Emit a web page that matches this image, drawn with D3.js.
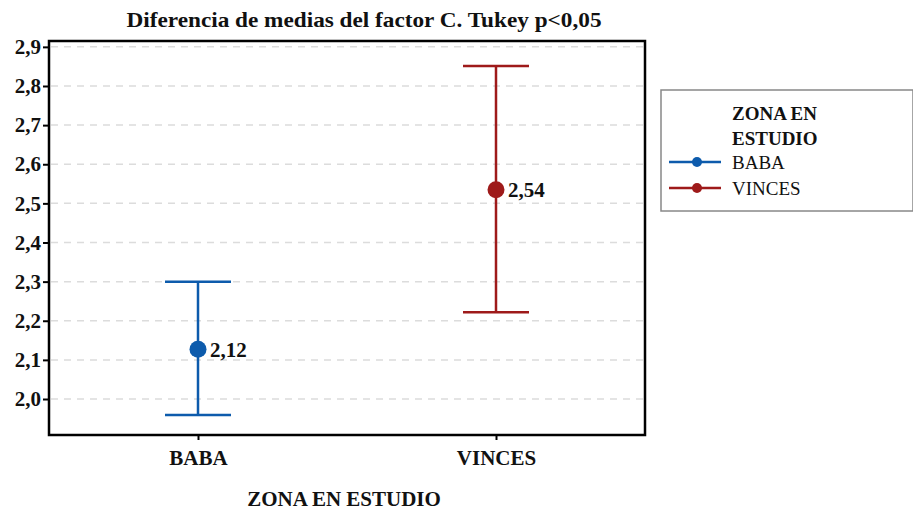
<!DOCTYPE html>
<html><head><meta charset="utf-8">
<script src="https://cdn.jsdelivr.net/npm/d3@7"></script>
<style>body{margin:0;background:#fff}svg text{font-family:"Liberation Serif","Times New Roman",serif}</style>
</head><body><svg id="c" width="913" height="514"></svg>
<script>
const categories = ["BABA", "VINCES"];
const means = [2.127, 2.535];
const meanLabels = ["2,12", "2,54"];
const lower = [1.959, 2.222];
const upper = [2.300, 2.851];
const yTicks = [2.0, 2.1, 2.2, 2.3, 2.4, 2.5, 2.6, 2.7, 2.8, 2.9];
const colors = ["#0d5bac", "#9e1a1a"];

const svg = d3.select("#c");
const L = 49, R = 645, T = 41, B = 435;
const x = d3.scalePoint().domain(categories).range([L, R]).padding(0.5);
const y = d3.scaleLinear().domain([1.908, 2.915]).range([B, T]);
const fmt = d => d.toFixed(1).replace(".", ",");

// grid
svg.append("g").selectAll("line").data(yTicks).join("line")
  .attr("x1", L + 2).attr("x2", R - 2)
  .attr("y1", d => y(d)).attr("y2", d => y(d))
  .attr("stroke", "#dcdcdc").attr("stroke-width", 1.5).attr("stroke-dasharray", "7,6");

// y axis
const ya = svg.append("g").attr("transform", `translate(${L},0)`)
  .call(d3.axisLeft(y).tickValues(yTicks).tickFormat(fmt).tickSize(6).tickPadding(2));
ya.select(".domain").remove();
ya.selectAll("text").attr("font-size", 21).attr("font-weight", "bold").attr("fill", "#111");
ya.selectAll("line").attr("stroke", "#000").attr("stroke-width", 2);

// x axis
const xa = svg.append("g").attr("transform", `translate(0,${B})`)
  .call(d3.axisBottom(x).tickSize(5).tickPadding(10));
xa.select(".domain").remove();
xa.selectAll("text").attr("font-size", 21).attr("font-weight", "bold").attr("fill", "#111");
xa.selectAll("line").attr("stroke", "#000").attr("stroke-width", 2);

// frame
svg.append("rect").attr("x", L).attr("y", T).attr("width", R - L).attr("height", B - T)
  .attr("fill", "none").attr("stroke", "#000").attr("stroke-width", 2.5);

// error bars
const g = svg.append("g");
categories.forEach((c, i) => {
  const cx = x(c), col = colors[i], hw = 33;
  g.append("line").attr("x1", cx).attr("x2", cx).attr("y1", y(upper[i])).attr("y2", y(lower[i]))
    .attr("stroke", col).attr("stroke-width", 2.5);
  [upper[i], lower[i]].forEach(v => g.append("line").attr("x1", cx - hw).attr("x2", cx + hw)
    .attr("y1", y(v)).attr("y2", y(v)).attr("stroke", col).attr("stroke-width", 2.5));
  g.append("circle").attr("cx", cx).attr("cy", y(means[i])).attr("r", 8.5).attr("fill", col);
  g.append("text").attr("x", cx + 12).attr("y", y(means[i])).attr("dy", "0.35em")
    .attr("font-size", 21).attr("font-weight", "bold").attr("fill", "#111").text(meanLabels[i]);
});

// title
svg.append("text").attr("x", 364).attr("y", 27).attr("text-anchor", "middle")
  .attr("font-size", 21).attr("font-weight", "bold").attr("fill", "#111")
  .attr("textLength", 475).attr("lengthAdjust", "spacingAndGlyphs")
  .text("Diferencia de medias del factor C. Tukey p<0,05");
svg.append("text").attr("x", 344).attr("y", 506).attr("text-anchor", "middle")
  .attr("font-size", 21).attr("font-weight", "bold").attr("fill", "#111")
  .text("ZONA EN ESTUDIO");

// legend
const lg = svg.append("g");
lg.append("rect").attr("x", 661).attr("y", 90).attr("width", 252).attr("height", 121)
  .attr("fill", "#fff").attr("stroke", "#888").attr("stroke-width", 1.5);
lg.append("text").attr("x", 732).attr("y", 120).attr("font-size", 19).attr("font-weight", "bold").attr("fill", "#111").text("ZONA EN");
lg.append("text").attr("x", 732).attr("y", 145).attr("font-size", 19).attr("font-weight", "bold").attr("fill", "#111").text("ESTUDIO");
categories.forEach((c, i) => {
  const yy = 162 + i * 26;
  lg.append("line").attr("x1", 669).attr("x2", 721).attr("y1", yy).attr("y2", yy)
    .attr("stroke", colors[i]).attr("stroke-width", 2.5);
  lg.append("circle").attr("cx", 697).attr("cy", yy).attr("r", 5).attr("fill", colors[i]);
  lg.append("text").attr("x", 732).attr("y", yy).attr("dy", "0.35em").attr("font-size", 19)
    .attr("fill", "#111").text(c);
});
</script></body></html>
